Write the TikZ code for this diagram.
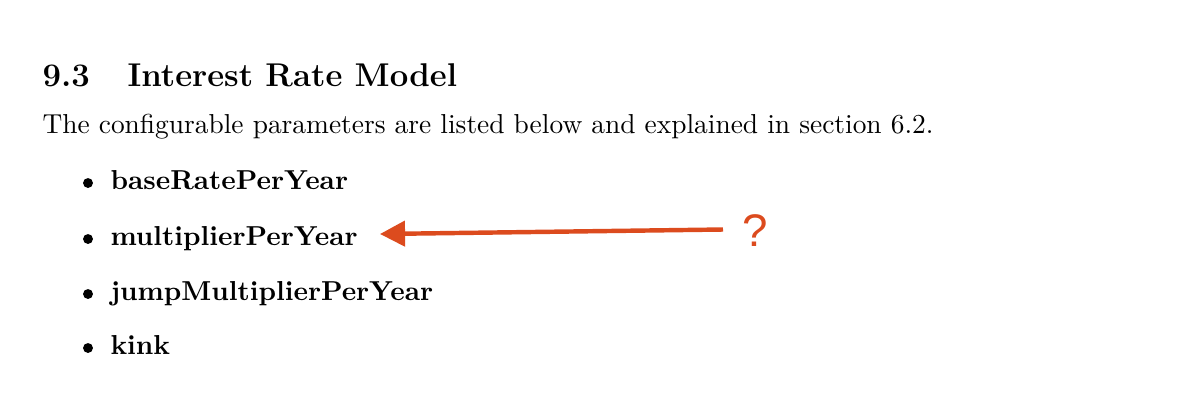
\documentclass[tikz,border=0pt]{standalone}
\usepackage{fontspec}
\newfontfamily\qfont{Liberation Sans}
\usetikzlibrary{arrows.meta}
\definecolor{arrowred}{RGB}{220,75,30}

\begin{document}
\begin{tikzpicture}
	[x=0.383pt, y=-0.383pt,
	txt/.style ={anchor=base west, inner sep=0pt, font=\fontsize{10.5}{12}\selectfont},
	head/.style ={anchor=base west, inner sep=0pt, font=\fontsize{12.6}{15}\selectfont\bfseries},
	entry/.style ={anchor=base west, inner sep=0pt, font=\fontsize{10.5}{12}\selectfont\bfseries},
	dot/.style ={circle, fill=black, inner sep=0pt, minimum size=3.8pt},
	arr/.style ={draw=arrowred, line width=1.7pt, -{Triangle[length=9.6pt, width=9.6pt]}}]
	\useasboundingbox (0,0) rectangle (1192,407);
	% heading and intro line
	\node[head] (num) at (42,86) {9.3};
	\node[head] (title) at (127,86) {Interest Rate Model};
	\node[txt] (intro) at (42,133) {The configurable parameters are listed below and explained in section 6.2.};
	% the list
	\node[entry] (p1) at (110,189) {baseRatePerYear};
	\node[entry] (p2) at (110,245) {multiplierPerYear};
	\node[entry] (p3) at (110,300) {jumpMultiplierPerYear};
	\node[entry] (p4) at (110,354) {kink};
	\node[dot] (b1) at (88,183) {};
	\node[dot] (b2) at (88,239) {};
	\node[dot] (b3) at (88,294) {};
	\node[dot] (b4) at (88,348) {};
	% question mark and arrow
	\node[anchor=base west, inner sep=0pt, text=arrowred, font=\fontsize{17.5}{20}\selectfont\qfont] (qm) at (742,246) {?};
	\coordinate (tail) at (723,229.5);
	\coordinate (tip) at (380,234);
	\draw[arr] (tail) -- (tip);
\end{tikzpicture}
\end{document}
